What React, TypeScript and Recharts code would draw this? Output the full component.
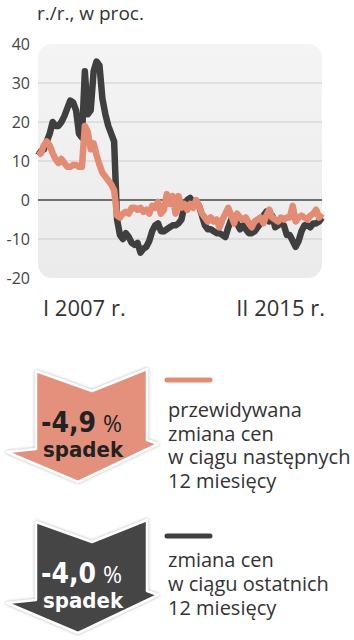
import React from "react";
import { LineChart, Line, XAxis, YAxis, ReferenceLine, ReferenceArea } from "recharts";

// miesięcznie, I 2007 – II 2015, r./r. w proc.
const expected = [
  11.5, 12, 14, 15, 14, 12, 10.5, 9.5, 10.5, 9.5, 8.5, 8.5, 9, 9, 8.5, 8.5, 19, 17.5, 13, 14.5,
  11.5, 9, 7, 6, 5, 4, 2.5, -4, -4.5, -3.5, -3, -3.5, -2, -2, -2.5, -2, -3, -2.5, -3.5, -1.5,
  -2, -0.5, -3.5, -2.5, 1.5, -1, 1, -3.5, 1, -2, -1, -2.5, -1, -2, 0, -1.5, -3.5, -4.5, -5.5, -4.5,
  -5.5, -5, -7, -5, -3.5, -2, -4, -6, -3.5, -4.5, -5, -4.5, -6, -7, -5.5, -5, -4.5, -6, -4, -2.5,
  -4.5, -5, -5.5, -4.5, -5, -4.5, -4.5, -1.5, -5.5, -4.5, -4, -4.5, -5, -4, -3.5, -2.5, -4.5, -3.5,
];
const actual = [
  11.5, 12.5, 13, 15, 17, 20, 19, 19, 20, 21.5, 23.5, 25.5, 25, 23, 17, 16, 33, 22, 23, 33,
  35.5, 34.5, 26, 22, 19, 17, 15, -5, -9, -10, -8.5, -9.5, -11, -11.5, -11, -13.5, -12.5, -12, -10.5, -8,
  -6.5, -6, -8, -8, -7.5, -7, -6.5, -6.5, -6, -5, -1.5, 0, 0.5, -1, -0.5, -1.5, -4, -6.5, -7.5, -7.5,
  -8, -8.5, -8.5, -9, -9.5, -7, -5, -5.5, -6, -7.5, -6.5, -7.5, -8.5, -8.5, -8, -7, -6, -4, -3, -5.5,
  -4, -7, -6.5, -6, -6.5, -9, -9, -10.5, -12, -10.5, -8, -6.5, -6.5, -7, -6, -6, -5.5, -4.5,
];
const xTickLabels = ["I 2007 r.", "II 2015 r."];
const yTicks = [-20, -10, 0, 10, 20, 30, 40];
const gridValues = [30, 20, 10, -10];

const data = actual.map((v, i) => ({ i, actual: v, expected: expected[i] }));
const last = data.length - 1;

const ORANGE = "#e38b73";
const DARK = "#3f3f3f";
const FONT = "'Open Sans', sans-serif";
const BOLD = "'DejaVu Sans Condensed', 'DejaVu Sans', sans-serif";

function XTick(props: any) {
  const { x, y, payload } = props;
  const first = payload.value === 0;
  return (
    <text
      x={first ? x + 5 : x + 3}
      y={y + 30}
      textAnchor={first ? "start" : "end"}
      fontFamily={FONT}
      fontSize={22}
      fill="#333"
    >
      {first ? xTickLabels[0] : xTickLabels[1]}
    </text>
  );
}

function Arrow({ dy, fill, ink, value }: { dy: number; fill: string; ink: string; value: string }) {
  const pts = [
    [36, 371], [92, 391], [147, 369], [147, 440], [158, 444],
    [78, 482], [7, 452], [36, 449],
  ].map(([x, y]) => `${x},${y + dy}`).join(" ");
  return (
    <g>
      <polygon points={pts} fill={fill} stroke="#fff" strokeWidth={2.5} strokeLinejoin="round" filter="url(#sh)" />
      <text fill={ink}>
        <tspan x={41} y={432 + dy} fontFamily={BOLD} fontWeight="bold" fontSize={28}>{value}</tspan>
        <tspan x={103} y={432 + dy} fontFamily={FONT} fontSize={23}>%</tspan>
        <tspan x={43} y={457 + dy} fontFamily={BOLD} fontWeight="bold" fontSize={22}>spadek</tspan>
      </text>
    </g>
  );
}

export default function App() {
  return (
    <div style={{ position: "absolute", left: 0, top: 0, width: 354, height: 640, background: "#fff" }}>
      <LineChart width={354} height={330} data={data} margin={{ top: 44, right: 32, left: 0, bottom: 0 }}>
        <defs>
          <linearGradient id="bg" x1="0" y1="0" x2="0" y2="1">
            <stop offset="0%" stopColor="#f4f4f4" />
            <stop offset="100%" stopColor="#ebebeb" />
          </linearGradient>
        </defs>
        <XAxis
          type="number"
          dataKey="i"
          domain={[0, last]}
          ticks={[0, last]}
          axisLine={false}
          tickLine={false}
          height={52}
          tick={<XTick />}
        />
        <YAxis
          domain={[-20, 40]}
          ticks={yTicks}
          width={38}
          axisLine={false}
          tickLine={false}
          tick={{ fontFamily: FONT, fontSize: 16, fill: "#444" }}
        />
        <ReferenceArea
          x1={0}
          x2={last}
          y1={-20}
          y2={40}
          shape={(p: any) => (
            <rect x={p.x} y={p.y} width={p.width} height={p.height} rx={14} fill="url(#bg)" />
          )}
        />
        {gridValues.map((v) => (
          <ReferenceLine key={v} y={v} stroke="#cdcdcd" strokeWidth={1} />
        ))}
        <ReferenceLine y={0} stroke="#444" strokeWidth={1.5} />
        <Line
          dataKey="actual"
          type="linear"
          stroke={DARK}
          strokeWidth={6.5}
          strokeLinejoin="round"
          dot={false}
          isAnimationActive={false}
        />
        <Line
          dataKey="expected"
          type="linear"
          stroke={ORANGE}
          strokeWidth={6.5}
          strokeLinejoin="round"
          dot={false}
          isAnimationActive={false}
        />
      </LineChart>

      <svg width={354} height={640} style={{ position: "absolute", left: 0, top: 0, pointerEvents: "none" }}>
        <defs>
          <filter id="sh" x="-10%" y="-10%" width="120%" height="120%">
            <feDropShadow dx={0} dy={0} stdDeviation={1.5} floodColor="#999" floodOpacity={0.8} />
          </filter>
        </defs>
        <text x={37} y={20} fontFamily={FONT} fontSize={19} fill="#333">r./r., w proc.</text>

        <Arrow dy={0} fill="#e3917b" ink="#222" value="-4,9" />
        <line x1={167} y1={380} x2={210} y2={380} stroke={ORANGE} strokeWidth={5} strokeLinecap="round" />
        <text fontFamily={FONT} fontSize={20} fill="#333">
          <tspan x={168} y={417}>przewidywana</tspan>
          <tspan x={168} y={441}>zmiana cen</tspan>
          <tspan x={168} y={464}>w ciągu następnych</tspan>
          <tspan x={168} y={488}>12 miesięcy</tspan>
        </text>

        <Arrow dy={151} fill="#444" ink="#fff" value="-4,0" />
        <line x1={167} y1={536} x2={210} y2={536} stroke={DARK} strokeWidth={5} strokeLinecap="round" />
        <text fontFamily={FONT} fontSize={20} fill="#333">
          <tspan x={168} y={567}>zmiana cen</tspan>
          <tspan x={168} y={591}>w ciągu ostatnich</tspan>
          <tspan x={168} y={615}>12 miesięcy</tspan>
        </text>
      </svg>
    </div>
  );
}
